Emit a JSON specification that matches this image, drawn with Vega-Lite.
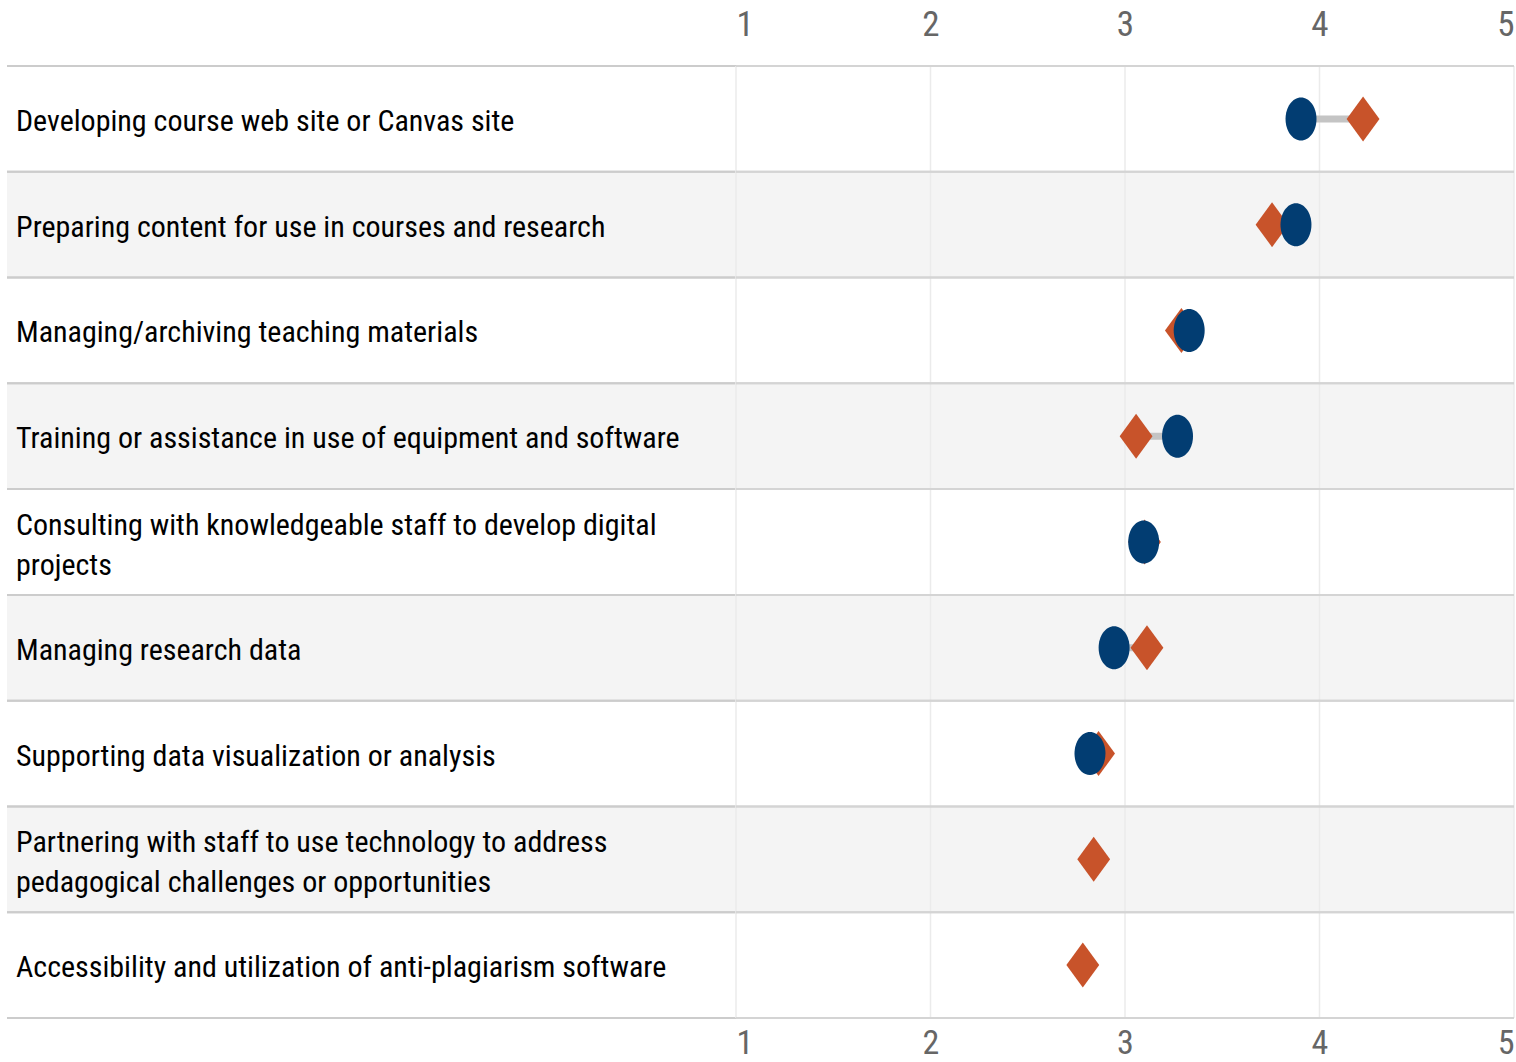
{
  "$schema": "https://vega.github.io/schema/vega-lite/v6.json",
  "padding": {"left": 6, "top": 7, "right": 3, "bottom": 0},
  "background": "#ffffff",
  "bounds": "flush",
  "spacing": 0,
  "config": {
    "view": {"stroke": null},
    "font": "'Roboto Condensed', 'Noto Sans Condensed', 'DejaVu Sans Condensed', sans-serif"
  },
  "datasets": {
    "rows": [
      {"order": 1, "label": "Developing course web site or Canvas site", "a": 3.905, "b": 4.224},
      {"order": 2, "label": "Preparing content for use in courses and research", "a": 3.879, "b": 3.756},
      {"order": 3, "label": "Managing/archiving teaching materials", "a": 3.33, "b": 3.29},
      {"order": 4, "label": "Training or assistance in use of equipment and software", "a": 3.27, "b": 3.057},
      {"order": 5, "label": "Consulting with knowledgeable staff to develop digital\nprojects", "a": 3.096, "b": 3.1},
      {"order": 6, "label": "Managing research data", "a": 2.944, "b": 3.113},
      {"order": 7, "label": "Supporting data visualization or analysis", "a": 2.82, "b": 2.864},
      {"order": 8, "label": "Partnering with staff to use technology to address\npedagogical challenges or opportunities", "a": null, "b": 2.839},
      {"order": 9, "label": "Accessibility and utilization of anti-plagiarism software", "a": null, "b": 2.783}
    ],
    "ticks": [{"v": 1}, {"v": 2}, {"v": 3}, {"v": 4}, {"v": 5}]
  },
  "hconcat": [
    {
      "width": 729,
      "height": 952,
      "data": {"name": "rows"},
      "layer": [
        {
          "mark": {"type": "rect"},
          "encoding": {
            "y": {"field": "label", "type": "nominal", "sort": {"field": "order"}, "axis": null,
                  "scale": {"paddingInner": 0, "paddingOuter": 0}},
            "x": {"datum": 0, "type": "quantitative", "scale": {"domain": [0, 1], "nice": false}, "axis": null},
            "x2": {"datum": 1},
            "fill": {"field": "order", "type": "ordinal", "legend": null,
                     "scale": {"domain": [1, 2, 3, 4, 5, 6, 7, 8, 9],
                               "range": ["#ffffff", "#f4f4f4", "#ffffff", "#f4f4f4", "#ffffff", "#f4f4f4", "#ffffff", "#f4f4f4", "#ffffff"]}}
          }
        },
        {
          "mark": {"type": "rule", "color": "#cccccc", "strokeWidth": 2},
          "encoding": {"y": {"field": "label", "type": "nominal", "sort": {"field": "order"}, "bandPosition": 0}}
        },
        {
          "mark": {"type": "rule", "color": "#cccccc", "strokeWidth": 2},
          "encoding": {"y": {"field": "label", "type": "nominal", "sort": {"field": "order"}, "bandPosition": 1}}
        },
        {
          "transform": [{"filter": "indexof(datum.label, '\\n') < 0"}],
          "mark": {"type": "text", "align": "left", "baseline": "middle", "dx": 9, "dy": 3, "fontSize": 30, "lineBreak": "\n", "lineHeight": 40, "fill": "#000000"},
          "encoding": {
            "y": {"field": "label", "type": "nominal", "sort": {"field": "order"}},
            "x": {"datum": 0, "type": "quantitative"},
            "text": {"field": "label"}
          }
        },
        {
          "transform": [{"filter": "indexof(datum.label, '\\n') >= 0"}],
          "mark": {"type": "text", "align": "left", "baseline": "middle", "dx": 9, "dy": -16, "fontSize": 30, "lineBreak": "\n", "lineHeight": 40, "fill": "#000000"},
          "encoding": {
            "y": {"field": "label", "type": "nominal", "sort": {"field": "order"}},
            "x": {"datum": 0, "type": "quantitative"},
            "text": {"field": "label"}
          }
        }
      ]
    },
    {
      "width": 778,
      "height": 952,
      "resolve": {"axis": {"x": "independent"}},
      "layer": [
        {
          "data": {"name": "rows"},
          "mark": {"type": "rect"},
          "encoding": {
            "y": {"field": "label", "type": "nominal", "sort": {"field": "order"}, "axis": null,
                  "scale": {"paddingInner": 0, "paddingOuter": 0}},
            "x": {"datum": 1, "type": "quantitative", "scale": {"domain": [1, 5], "nice": false, "zero": false}, "axis": null},
            "x2": {"datum": 5},
            "fill": {"field": "order", "type": "ordinal", "legend": null}
          }
        },
        {
          "data": {"name": "ticks"},
          "mark": {"type": "rule", "color": "#ebebeb", "strokeWidth": 1.5},
          "encoding": {
            "x": {"field": "v", "type": "quantitative",
                  "axis": {"orient": "top", "values": [1, 2, 3, 4, 5], "grid": false, "domain": false, "ticks": false,
                           "labelFlush": true, "labelFontSize": 35, "labelColor": "#666666", "labelPadding": 24,
                           "title": null}}
          }
        },
        {
          "data": {"name": "ticks"},
          "mark": {"type": "rule", "color": "#ebebeb", "strokeWidth": 1.5, "opacity": 0},
          "encoding": {
            "x": {"field": "v", "type": "quantitative",
                  "axis": {"orient": "bottom", "values": [1, 2, 3, 4, 5], "grid": false, "domain": false, "ticks": false,
                           "labelFlush": true, "labelFontSize": 34, "labelColor": "#666666", "labelPadding": 8,
                           "title": null}}
          }
        },
        {
          "data": {"name": "rows"},
          "mark": {"type": "rule", "color": "#d4d4d4", "strokeWidth": 2},
          "encoding": {"y": {"field": "label", "type": "nominal", "sort": {"field": "order"}, "bandPosition": 0, "axis": null}}
        },
        {
          "data": {"name": "rows"},
          "mark": {"type": "rule", "color": "#d4d4d4", "strokeWidth": 2},
          "encoding": {"y": {"field": "label", "type": "nominal", "sort": {"field": "order"}, "bandPosition": 1, "axis": null}}
        },
        {
          "data": {"name": "rows"},
          "mark": {"type": "rule", "color": "#c4c4c4", "strokeWidth": 7},
          "encoding": {
            "y": {"field": "label", "type": "nominal", "sort": {"field": "order"}, "axis": null},
            "x": {"field": "a", "type": "quantitative", "axis": null},
            "x2": {"field": "b"}
          }
        },
        {
          "data": {"name": "rows"},
          "mark": {"type": "point", "filled": true, "opacity": 1, "color": "#c8532a",
                   "shape": "M0,-1L0.73,0L0,1L-0.73,0Z", "size": 2025, "strokeWidth": 0},
          "encoding": {
            "y": {"field": "label", "type": "nominal", "sort": {"field": "order"}, "axis": null},
            "x": {"field": "b", "type": "quantitative", "axis": null}
          }
        },
        {
          "data": {"name": "rows"},
          "mark": {"type": "point", "filled": true, "opacity": 1, "color": "#023d72",
                   "shape": "M0,-1A0.72,1,0,1,1,0,1A0.72,1,0,1,1,0,-1Z", "size": 1849, "strokeWidth": 0},
          "encoding": {
            "y": {"field": "label", "type": "nominal", "sort": {"field": "order"}, "axis": null},
            "x": {"field": "a", "type": "quantitative", "axis": null}
          }
        }
      ]
    }
  ]
}
